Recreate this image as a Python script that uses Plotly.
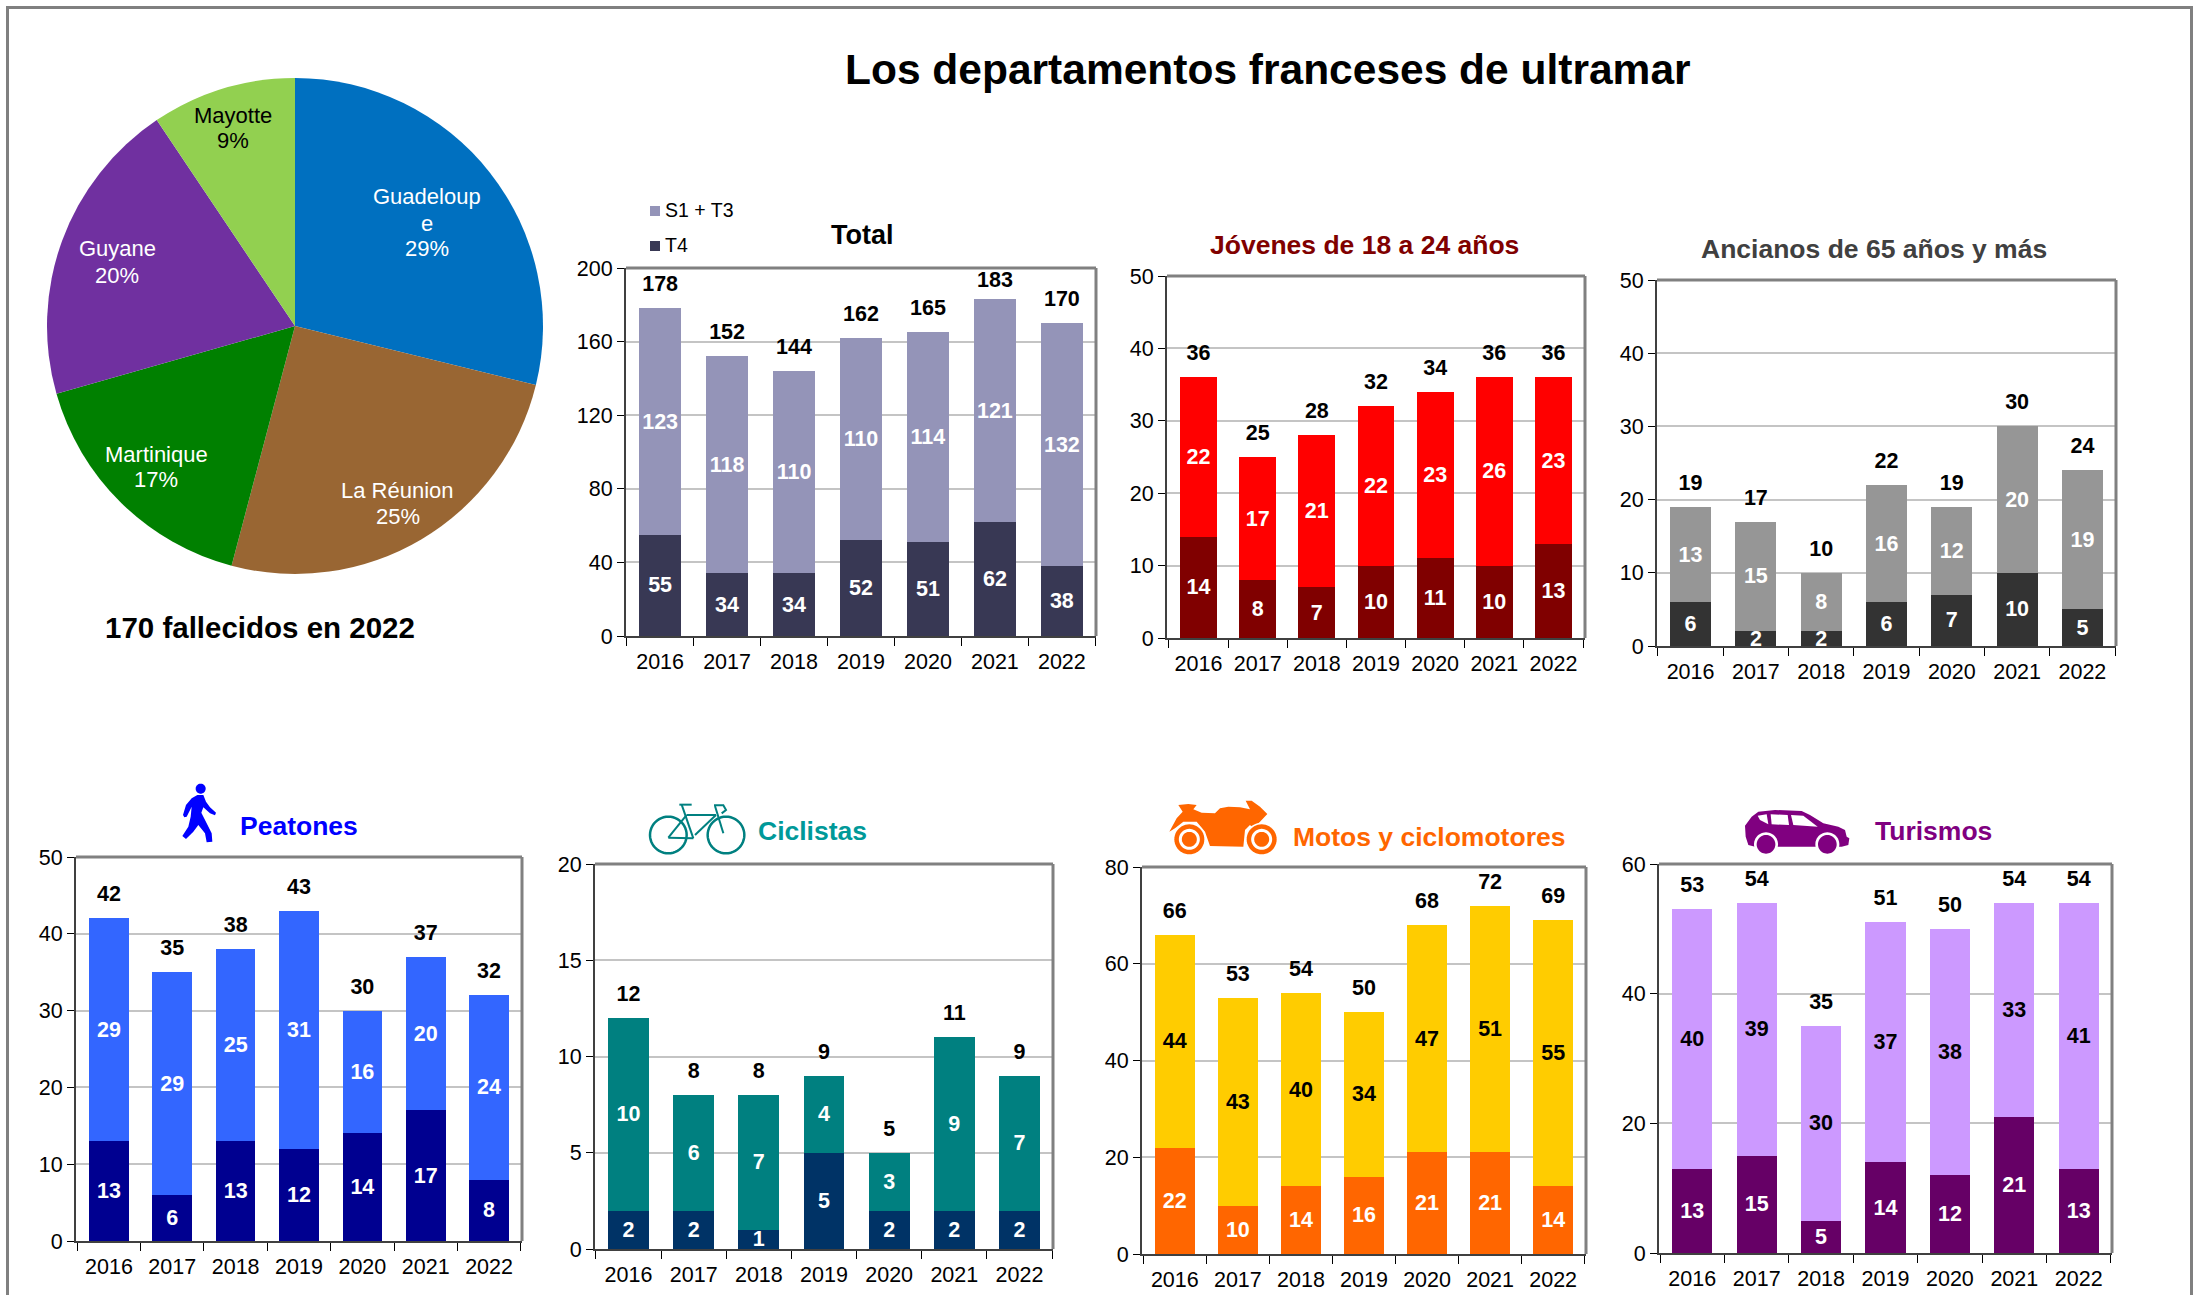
import numpy as np
import plotly.graph_objects as go

W, H = 2199, 1295
years = ["2016", "2017", "2018", "2019", "2020", "2021", "2022"]

pie_names = ["Guadeloupe", "La Réunion", "Martinique", "Guyane", "Mayotte"]
pie_label_lines = [["Guadeloup", "e"], ["La Réunion"], ["Martinique"], ["Guyane"], ["Mayotte"]]
pie_values = [49, 43, 28, 34, 16]
pie_percent = ["29%", "25%", "17%", "20%", "9%"]
pie_colors = ["#0070C0", "#996633", "#008000", "#7030A0", "#92D050"]
pie_text_colors = ["white", "white", "white", "white", "black"]

total_low = [55, 34, 34, 52, 51, 62, 38]
total_up = [123, 118, 110, 110, 114, 121, 132]
jov_low = [14, 8, 7, 10, 11, 10, 13]
jov_up = [22, 17, 21, 22, 23, 26, 23]
anc_low = [6, 2, 2, 6, 7, 10, 5]
anc_up = [13, 15, 8, 16, 12, 20, 19]
pea_low = [13, 6, 13, 12, 14, 17, 8]
pea_up = [29, 29, 25, 31, 16, 20, 24]
cic_low = [2, 2, 1, 5, 2, 2, 2]
cic_up = [10, 6, 7, 4, 3, 9, 7]
mot_low = [22, 10, 14, 16, 21, 21, 14]
mot_up = [44, 43, 40, 34, 47, 51, 55]
tur_low = [13, 15, 5, 14, 12, 21, 13]
tur_up = [40, 39, 30, 37, 38, 33, 41]

FONT = "Liberation Sans"
GRID = "#C4C4C4"
EDGE = "#808080"


def X(px):
    return px / W


def Y(py):
    return 1 - py / H


charts = [
    dict(low=total_low, up=total_up, box=(626, 268, 1096, 636), rng=200, dt=40, clow="#383854", cup="#9494B8", tup="white", gaps=[17, 17, 17, 17, 17, 9, 17]),
    dict(low=jov_low, up=jov_up, box=(1167, 276, 1585, 638), rng=50, dt=10, clow="#800000", cup="#FF0000", tup="white"),
    dict(low=anc_low, up=anc_up, box=(1657, 280, 2116, 646), rng=50, dt=10, clow="#333333", cup="#969696", tup="white"),
    dict(low=pea_low, up=pea_up, box=(76, 857, 522, 1241), rng=50, dt=10, clow="#000090", cup="#3366FF", tup="white"),
    dict(low=cic_low, up=cic_up, box=(595, 864, 1053, 1249), rng=20, dt=5, clow="#003366", cup="#008080", tup="white"),
    dict(low=mot_low, up=mot_up, box=(1142, 867, 1586, 1254), rng=80, dt=20, clow="#FF6600", cup="#FFCC00", tup="black"),
    dict(low=tur_low, up=tur_up, box=(1659, 864, 2112, 1253), rng=60, dt=20, clow="#660066", cup="#CC99FF", tup="black"),
]

fig = go.Figure()
layout = {}
shapes = []
annotations = []

fig.add_trace(go.Pie(
    labels=pie_names, values=pie_values, sort=False, direction="clockwise", rotation=0,
    marker=dict(colors=pie_colors, line=dict(width=0)), textinfo="none", showlegend=False,
    domain=dict(x=[X(47), X(543)], y=[Y(574), Y(78)]),
))
pie_pos = [(427, 223), (398, 503), (156, 467), (117, 262), (233, 128)]
LINE = 26
for lines, pct, c, (px, py) in zip(pie_label_lines, pie_percent, pie_text_colors, pie_pos):
    rows = lines + [pct]
    for k, row in enumerate(rows):
        annotations.append(dict(text=row, x=X(px), y=Y(py + (k - (len(rows) - 1) / 2) * LINE), showarrow=False,
                                xref="paper", yref="paper", xanchor="center", yanchor="middle",
                                font=dict(size=22, color=c, family=FONT)))

for i, c in enumerate(charts):
    s = "" if i == 0 else str(i + 1)
    xa, ya = "x" + s, "y" + s
    x0, y0, x1, y1 = c["box"]
    for vals, col, tc in ((c["low"], c["clow"], "white"), (c["up"], c["cup"], c["tup"])):
        fig.add_trace(go.Bar(
            x=years, y=vals, xaxis=xa, yaxis=ya, marker=dict(color=col, line=dict(width=0)),
            text=[str(v) for v in vals], textposition="inside", insidetextanchor="middle",
            constraintext="none", textangle=0, cliponaxis=False,
            textfont=dict(size=21.5, color=tc, family=FONT, weight="bold"), showlegend=False,
        ))
    totals = [a + b for a, b in zip(c["low"], c["up"])]
    fig.add_trace(go.Scatter(
        x=years, y=totals, xaxis=xa, yaxis=ya, mode="markers+text", text=[str(t) for t in totals],
        textposition="top center", marker=dict(size=c.get("gaps", 17), opacity=0), cliponaxis=False,
        textfont=dict(size=21.5, color="black", family=FONT, weight="bold"), showlegend=False,
    ))
    layout["xaxis" + s] = dict(
        domain=[X(x0), X(x1)], anchor=ya, type="category", tickson="boundaries", ticks="outside", ticklen=8,
        tickcolor="black", tickwidth=1, showline=True, linecolor="#404040", linewidth=2, showgrid=False,
        zeroline=False, tickfont=dict(size=21.5, family=FONT, color="black"), ticklabelstandoff=5, fixedrange=True,
        automargin=False,
    )
    layout["yaxis" + s] = dict(
        domain=[Y(y1), Y(y0)], anchor=xa, range=[0, c["rng"]], dtick=c["dt"], tick0=0, ticks="outside", ticklen=7,
        tickcolor="black", tickwidth=1, showline=True, linecolor="#404040", linewidth=2, showgrid=True,
        gridcolor=GRID, gridwidth=1.5, zeroline=False, tickfont=dict(size=21.5, family=FONT, color="black"),
        fixedrange=True, automargin=False,
    )
    shapes.append(dict(type="line", xref=xa + " domain", yref=ya + " domain", x0=0, x1=1, y0=1, y1=1,
                       line=dict(color=EDGE, width=3)))
    shapes.append(dict(type="line", xref=xa + " domain", yref=ya + " domain", x0=1, x1=1, y0=0, y1=1,
                       line=dict(color=EDGE, width=3)))


def note(text, px, py, size, color="black", bold=True, anchor="center"):
    annotations.append(dict(text=f"<b>{text}</b>" if bold else text, x=X(px), y=Y(py), xref="paper", yref="paper",
                            showarrow=False, xanchor=anchor, yanchor="middle",
                            font=dict(size=size, color=color, family=FONT)))


note("Los departamentos franceses de ultramar", 1268, 69, 42.5)
note("170 fallecidos en 2022", 260, 627, 29.5)
note("Total", 862, 235, 27)
note("Jóvenes de 18 a 24 años", 1364, 245, 26.5, "#800000")
note("Ancianos de 65 años y más", 1874, 249, 26.5, "#404040")
note("Peatones", 299, 826, 26.5, "#0000FF")
note("Ciclistas", 812, 831, 26.5, "#009999")
note("Motos y ciclomotores", 1429, 837, 26.5, "#FF6600")
note("Turismos", 1933, 831, 26.5, "#800080")
note("S1 + T3", 663, 210, 19.5, bold=False, anchor="left")
note("T4", 663, 245, 19.5, bold=False, anchor="left")


def rect(x0, y0, x1, y1, color):
    shapes.append(dict(type="rect", xref="paper", yref="paper", x0=X(x0), x1=X(x1), y0=Y(y1), y1=Y(y0),
                       fillcolor=color, line=dict(width=0)))


rect(650, 206, 660, 216, "#9494B8")
rect(650, 241, 660, 251, "#383854")

# page frame
shapes.append(dict(type="path", xref="paper", yref="paper", layer="above",
                   path=f"M{X(7.5)},{Y(1300)} L{X(7.5)},{Y(7.5)} L{X(2191.5)},{Y(7.5)} L{X(2191.5)},{Y(1300)}",
                   line=dict(color=EDGE, width=3)))


def poly(points, ox, oy, fill=None, line=None, width=0, closed=True):
    d = ""
    for j, (px, py) in enumerate(points):
        d += ("M" if j == 0 else "L") + f"{X(ox + px / 3):.5f},{Y(oy + py / 3):.5f} "
    if closed:
        d += "Z"
    sh = dict(type="path", xref="paper", yref="paper", path=d, line=dict(width=width, color=line or "rgba(0,0,0,0)"))
    if fill:
        sh["fillcolor"] = fill
    shapes.append(sh)


def circle(cx, cy, r, ox, oy, fill=None, line=None, width=0):
    t = np.linspace(0, 2 * np.pi, 48, endpoint=False)
    poly(list(zip(cx + r * np.cos(t), cy + r * np.sin(t))), ox, oy, fill, line, width)


# walker
B = "#0000FF"
circle(122, 56, 15, 160, 770, B)
poly([(112, 75), (130, 75), (138, 95), (150, 112), (168, 128), (165, 136), (150, 130), (130, 112), (124, 128),
      (140, 160), (155, 190), (157, 215), (140, 217), (135, 190), (115, 165), (100, 185), (78, 207), (67, 198),
      (85, 170), (92, 140), (95, 110), (80, 140), (73, 142), (69, 135), (78, 105), (95, 85)], 160, 770, B)

# bicycle
T = "#008080"
circle(85, 135, 55, 640, 790, None, T, 2.5)
circle(258, 135, 55, 640, 790, None, T, 2.5)
for seg in ([(118, 44), (155, 44)], [(125, 44), (160, 145)], [(85, 143), (160, 145)], [(85, 143), (140, 75)],
            [(140, 75), (228, 75)], [(228, 75), (165, 135)], [(225, 48), (250, 130)],
            [(222, 46), (250, 46), (258, 60), (245, 70)]):
    poly(seg, 640, 790, None, T, 2, closed=False)

# motorcycle
M = "#FF6600"
poly([(28, 125), (50, 85), (68, 65), (55, 45), (85, 42), (110, 45), (100, 58), (125, 68), (165, 70), (180, 55),
      (205, 50), (240, 52), (270, 58), (257, 32), (275, 32), (300, 50), (322, 72), (300, 95), (280, 115), (270, 105),
      (255, 120), (250, 170), (150, 168), (135, 125), (110, 95), (70, 95), (45, 115)], 1160, 790, M)
for cx in (88, 305):
    circle(cx, 148, 50, 1160, 790, "white")
    circle(cx, 148, 45, 1160, 790, M)
    circle(cx, 148, 27, 1160, 790, None, "white", 3)

# car
P = "#800080"
poly([(30, 92), (50, 65), (70, 50), (120, 45), (200, 48), (225, 60), (265, 85), (310, 95), (330, 105), (335, 125),
      (343, 130), (340, 150), (320, 155), (60, 155), (40, 150), (32, 125)], 1735, 795, P)
for cx in (93, 277):
    circle(cx, 148, 36, 1735, 795, "white")
    circle(cx, 148, 28, 1735, 795, P)
for w in ([(68, 62), (95, 58), (100, 88), (75, 75)], [(107, 58), (158, 60), (162, 90), (110, 88)],
          [(168, 60), (205, 62), (248, 95), (175, 90)]):
    poly(w, 1735, 795, "white")

fig.update_layout(
    width=W, height=H, autosize=False, margin=dict(l=0, r=0, t=0, b=0, pad=0), paper_bgcolor="white",
    plot_bgcolor="white", barmode="stack", bargap=0.375, font=dict(family=FONT), shapes=shapes,
    annotations=annotations, showlegend=False, **layout,
)
fig.write_html("out.html", config=dict(displayModeBar=False),
               post_script="document.body.style.margin='0';document.body.style.overflow='hidden';")
